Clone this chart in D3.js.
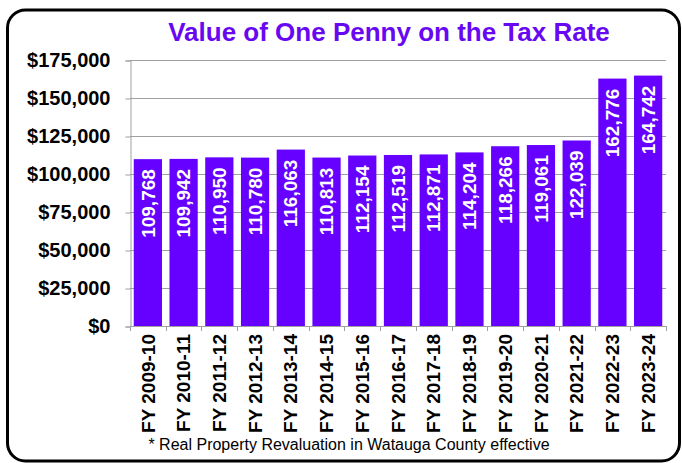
<!DOCTYPE html>
<html><head><meta charset="utf-8">
<script src="https://cdn.jsdelivr.net/npm/d3@7"></script>
<style>html,body{margin:0;padding:0;background:#fff;}svg{display:block;}</style>
</head><body>
<svg id="c" width="682" height="463"></svg>
<script>
const categories = ["FY 2009-10","FY 2010-11","FY 2011-12","FY 2012-13","FY 2013-14","FY 2014-15","FY 2015-16","FY 2016-17","FY 2017-18","FY 2018-19","FY 2019-20","FY 2020-21","FY 2021-22","FY 2022-23","FY 2023-24"];
const values = [109768,109942,110950,110780,116063,110813,112154,112519,112871,114204,118266,119061,122039,162776,164742];
const yTicks = [0,25000,50000,75000,100000,125000,150000,175000];
const titleText = "Value of One Penny on the Tax Rate";
const footnote = "* Real Property Revaluation in Watauga County effective";

const svg = d3.select("#c");
const font = "'Liberation Sans', Arial, sans-serif";
const barColor = "#6600FF";

svg.append("rect").attr("x",7.5).attr("y",10).attr("width",672).attr("height",451)
  .attr("rx",18).attr("fill","#fff").attr("stroke","#000").attr("stroke-width",3);

const x = d3.scaleBand().domain(categories).range([130,666]).paddingInner(0.21).paddingOuter(0.105);
const y = d3.scaleLinear().domain([0,175000]).range([326,60]);

// gridlines
svg.append("g").selectAll("line").data(yTicks.slice(1)).join("line")
  .attr("x1",130).attr("x2",666).attr("y1",d=>y(d)+0.5).attr("y2",d=>y(d)+0.5)
  .attr("stroke","#a0a0a0").attr("stroke-width",1);

// y axis
const yAxis = d3.axisLeft(y).tickValues(yTicks).tickSize(5).tickPadding(15)
  .tickFormat(d=>"$"+d3.format(",")(d));
const gy = svg.append("g").attr("transform","translate(130.5,0.5)").call(yAxis);
gy.select(".domain").attr("stroke","#a0a0a0");
gy.selectAll(".tick line").attr("stroke","#a0a0a0");
gy.selectAll("text").attr("font-family",font).attr("font-weight","bold").attr("font-size",20).attr("fill","#000");

// bars
svg.append("g").selectAll("rect").data(values).join("rect")
  .attr("x",(d,i)=>x(categories[i])).attr("width",x.bandwidth())
  .attr("y",d=>y(d)).attr("height",d=>y(0)-y(d)).attr("fill",barColor);

// x axis line & ticks
const step = x.step();
const bounds = d3.range(categories.length+1).map(i=>130+i*step);
svg.append("line").attr("x1",130).attr("x2",666).attr("y1",326.5).attr("y2",326.5).attr("stroke","#a0a0a0");
svg.append("g").selectAll("line").data(bounds).join("line")
  .attr("x1",d=>Math.round(d)+0.5).attr("x2",d=>Math.round(d)+0.5).attr("y1",326).attr("y2",331)
  .attr("stroke","#a0a0a0");

// x labels
svg.append("g").selectAll("text").data(categories).join("text")
  .attr("transform",d=>`translate(${x(d)+x.bandwidth()/2},334) rotate(-90)`)
  .attr("text-anchor","end").attr("dy","0.35em")
  .attr("font-family",font).attr("font-weight","bold").attr("font-size",19).attr("fill","#000")
  .text(d=>d);

// value labels
svg.append("g").selectAll("text").data(values).join("text")
  .attr("transform",(d,i)=>`translate(${x(categories[i])+x.bandwidth()/2},${y(d)+10}) rotate(-90)`)
  .attr("text-anchor","end").attr("dy","0.35em")
  .attr("font-family",font).attr("font-weight","bold").attr("font-size",19).attr("fill","#fff")
  .text(d=>d3.format(",")(d));

// title
svg.append("text").attr("x",389).attr("y",41).attr("text-anchor","middle")
  .attr("font-family",font).attr("font-weight","bold").attr("font-size",26).attr("fill","#6808F2")
  .text(titleText);

// footnote
svg.append("text").attr("x",349).attr("y",450).attr("text-anchor","middle")
  .attr("font-family",font).attr("font-size",16).attr("fill","#000")
  .text(footnote);
</script>
</body></html>
